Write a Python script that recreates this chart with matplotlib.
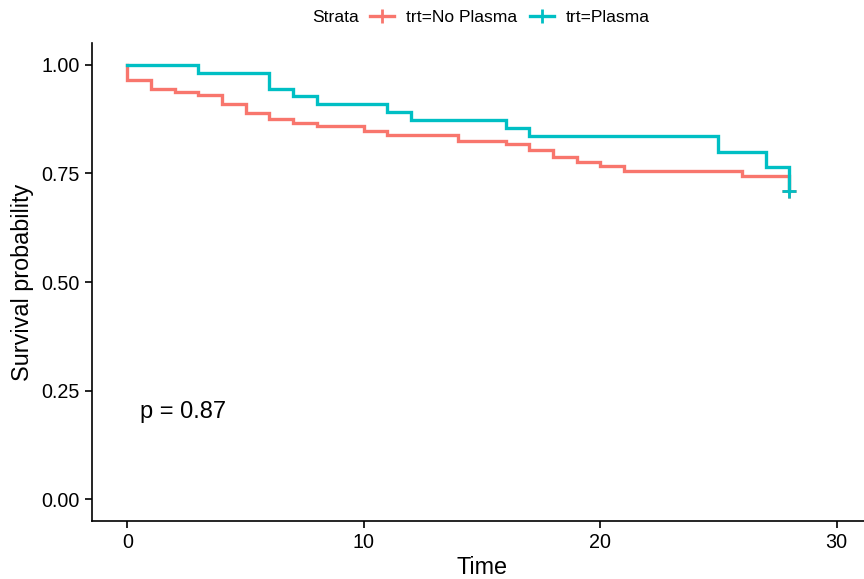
import matplotlib.pyplot as plt
from matplotlib.lines import Line2D

plt.rcParams["font.family"] = ["Liberation Sans", "DejaVu Sans"]

RED = "#F8766D"
TEAL = "#00BFC4"

# Kaplan-Meier estimates
no_plasma_time = [0, 0, 1, 2, 3, 4, 5, 6, 7, 8, 10, 11, 14, 16, 17, 18, 19, 20, 21, 26, 28]
no_plasma_surv = [1.0, 0.964, 0.944, 0.937, 0.931, 0.910, 0.889, 0.874, 0.867, 0.860, 0.847,
                  0.839, 0.825, 0.818, 0.803, 0.788, 0.776, 0.768, 0.755, 0.745, 0.710]

plasma_time = [0, 3, 6, 7, 8, 11, 12, 16, 17, 25, 27, 28]
plasma_surv = [1.0, 0.982, 0.945, 0.927, 0.909, 0.891, 0.873, 0.855, 0.836, 0.800, 0.764, 0.709]

censor_time = [28]
no_plasma_censor = [0.710]
plasma_censor = [0.709]

x_ticks = [0, 10, 20, 30]
y_ticks = [0.00, 0.25, 0.50, 0.75, 1.00]
p_label = "p = 0.87"


def main() -> None:
    fig = plt.figure(figsize=(8.64, 5.79), dpi=100)
    ax = fig.add_axes([92 / 864, 1 - 521 / 579, 780 / 864, (521 - 43) / 579])

    lw = 2.4
    ax.step(no_plasma_time, no_plasma_surv, where="post", color=RED, lw=lw, solid_joinstyle="miter")
    ax.plot(censor_time, no_plasma_censor, "+", color=RED, ms=10, mew=2)
    ax.step(plasma_time, plasma_surv, where="post", color=TEAL, lw=lw, solid_joinstyle="miter")
    ax.plot(censor_time, plasma_censor, "+", color=TEAL, ms=10, mew=2)

    ax.set_xlim(-1.5, 31.5)
    ax.set_ylim(-0.05, 1.05)
    ax.set_xticks(x_ticks)
    ax.set_yticks(y_ticks)
    ax.set_yticklabels([f"{v:.2f}" for v in y_ticks])

    for side in ["top", "right"]:
        ax.spines[side].set_visible(False)
    for side in ["left", "bottom"]:
        ax.spines[side].set_linewidth(1.2)
    ax.tick_params(axis="both", length=5, width=1.2, labelsize=14.2, color="black", pad=4)

    ax.set_xlabel("Time", fontsize=16.8, labelpad=2.5)
    ax.set_ylabel("Survival probability", fontsize=16.8, labelpad=5)

    ax.text(0.55, 0.2, p_label, fontsize=17, ha="left", va="center")

    # legend across the top
    fig.text(312 / 864, 1 - 17 / 579, "Strata", fontsize=12.6, ha="left", va="center")
    handles = [
        Line2D([], [], color=RED, lw=lw, marker="+", ms=10, mew=2),
        Line2D([], [], color=TEAL, lw=lw, marker="+", ms=10, mew=2),
    ]
    fig.legend(handles, ["trt=No Plasma", "trt=Plasma"], loc="center left",
               bbox_to_anchor=(370 / 864, 1 - 17 / 579), ncol=2, frameon=False,
               fontsize=12.6, handlelength=1.37, handletextpad=0.68, columnspacing=0.74,
               borderpad=0, borderaxespad=0)

    fig.savefig("out.png", dpi=100)
    plt.close(fig)


if __name__ == "__main__":
    main()
